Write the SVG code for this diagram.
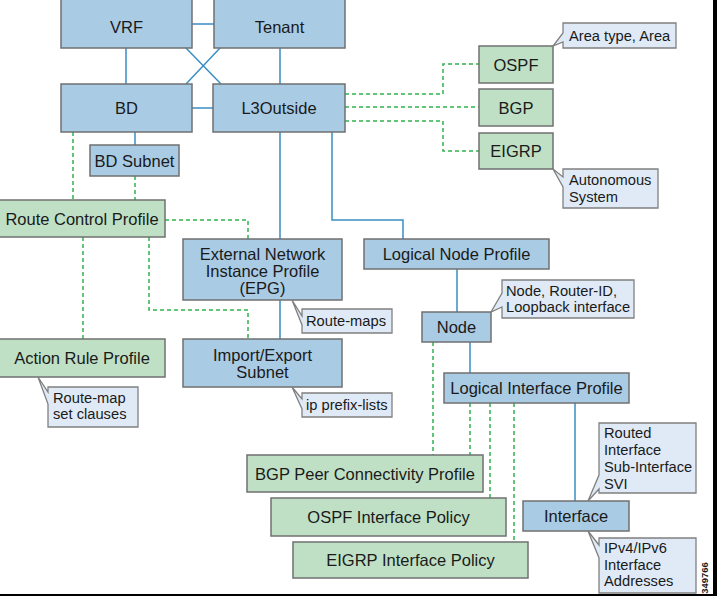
<svg xmlns="http://www.w3.org/2000/svg" width="717" height="596" viewBox="0 0 717 596">
<style>
.b{fill:#a9cbe4;stroke:#707070;stroke-width:1.5}
.g{fill:#bfe0c5;stroke:#707070;stroke-width:1.5}
.c{fill:#dfeaf6;stroke:#808080;stroke-width:1.3}
.t{font-family:"Liberation Sans",Arial,sans-serif;font-size:16.5px;fill:#1a1a1a;text-anchor:middle}
.s{font-family:"Liberation Sans",Arial,sans-serif;font-size:14.7px;fill:#1a1a1a}
.l{fill:none;stroke:#3a8fc4;stroke-width:1.5}
.d{fill:none;stroke:#2fb34c;stroke-width:1.5;stroke-dasharray:4,3}
</style>
<rect x="0" y="0" width="717" height="596" fill="#ffffff"/>
<g id="connectors">
<path class="l" d="M192,24H214 M126,48V84 M186,48L221,84 M220,48L186,84 M280,48V84 M192,108H213 M135,132V145 M280,132V239 M332,132V220H403V239 M280,300V339 M457,269V312 M470,342V373 M575,403V501"/>
<path class="d" d="M73,132V200 M135,176V200 M165,220H248V239 M83,237V339 M149,237V310H248V339 M345,94H443V64H479 M345,107H479 M345,121H443V151H479 M433,342V455 M470,403V455 M490,403V498 M514,403V542"/>
</g>
<g id="vrf"><rect class="b" x="61" y="-2" width="131" height="50"/><text class="t" x="126.5" y="33">VRF</text></g>
<g id="tenant"><rect class="b" x="214" y="-2" width="131" height="50"/><text class="t" x="279.5" y="33">Tenant</text></g>
<g id="bd"><rect class="b" x="61" y="84" width="131" height="48"/><text class="t" x="126.5" y="114">BD</text></g>
<g id="l3outside"><rect class="b" x="213" y="84" width="132" height="48"/><text class="t" x="279" y="114">L3Outside</text></g>
<g id="bdsubnet"><rect class="b" x="90" y="145" width="89" height="31"/><text class="t" x="134.5" y="166.5">BD Subnet</text></g>
<g id="ospf"><rect class="g" x="479" y="46" width="74" height="37"/><text class="t" x="516" y="70.5">OSPF</text></g>
<g id="bgp"><rect class="g" x="479" y="89" width="74" height="37"/><text class="t" x="516" y="113.5">BGP</text></g>
<g id="eigrp"><rect class="g" x="479" y="133" width="74" height="36"/><text class="t" x="516" y="157">EIGRP</text></g>
<g id="c-area"><path class="c" d="M563,23H676V48H563V42L553,46L563,33Z"/><text class="s" x="569" y="40.5">Area type, Area</text></g>
<g id="c-as"><path class="c" d="M563,169H658V208H563V187L553,169L563,177Z"/><text class="s" x="569" y="185">Autonomous</text><text class="s" x="569" y="201.5">System</text></g>
<g id="rcp"><rect class="g" x="-2" y="200" width="167" height="37"/><text class="t" x="82" y="224.5">Route Control Profile</text></g>
<g id="epg"><rect class="b" x="183" y="239" width="159" height="61"/><text class="t" x="262.5" y="259.5">External Network</text><text class="t" x="262.5" y="276.5">Instance Profile</text><text class="t" x="262.5" y="293.5">(EPG)</text></g>
<g id="lnp"><rect class="b" x="364" y="239" width="185" height="30"/><text class="t" x="456.5" y="260">Logical Node Profile</text></g>
<g id="c-rm"><path class="c" d="M302,309H392V333H302V325L292,300L302,316Z"/><text class="s" x="306" y="326">Route-maps</text></g>
<g id="arp"><rect class="g" x="-2" y="339" width="167" height="38"/><text class="t" x="82" y="364">Action Rule Profile</text></g>
<g id="ies"><rect class="b" x="183" y="339" width="159" height="48"/><text class="t" x="262.5" y="360.5">Import/Export</text><text class="t" x="262.5" y="377.5">Subnet</text></g>
<g id="c-rmsc"><path class="c" d="M48,387H138V427H48V404L38,377L48,392Z"/><text class="s" x="53" y="403">Route-map</text><text class="s" x="53" y="419">set clauses</text></g>
<g id="c-ipl"><path class="c" d="M302,393H392V417H302V409L292,387L302,399Z"/><text class="s" x="306" y="410">ip prefix-lists</text></g>
<g id="node"><rect class="b" x="422" y="312" width="69" height="30"/><text class="t" x="456.5" y="333">Node</text></g>
<g id="c-node"><path class="c" d="M502,280H634V318H502V307L491,312L502,293Z"/><text class="s" x="506" y="296">Node, Router-ID,</text><text class="s" x="506" y="312">Loopback interface</text></g>
<g id="lip"><rect class="b" x="444" y="373" width="185" height="30"/><text class="t" x="536.5" y="394">Logical Interface Profile</text></g>
<g id="bgppeer"><rect class="g" x="247" y="455" width="236" height="37"/><text class="t" x="365" y="479.5">BGP Peer Connectivity Profile</text></g>
<g id="ospfip"><rect class="g" x="271" y="498" width="235" height="38"/><text class="t" x="388.5" y="523">OSPF Interface Policy</text></g>
<g id="eigrpip"><rect class="g" x="293" y="542" width="235" height="36"/><text class="t" x="410.5" y="566">EIGRP Interface Policy</text></g>
<g id="interface"><rect class="b" x="523" y="501" width="106" height="30"/><text class="t" x="576" y="522">Interface</text></g>
<g id="c-routed"><path class="c" d="M599,423H696V493H599V489L588,501L599,475Z"/><text class="s" x="604" y="438">Routed</text><text class="s" x="604" y="455">Interface</text><text class="s" x="604" y="472">Sub-Interface</text><text class="s" x="604" y="489">SVI</text></g>
<g id="c-ip"><path class="c" d="M599,538H696V593H599V558L588,531L599,545Z"/><text class="s" x="604" y="553">IPv4/IPv6</text><text class="s" x="604" y="569.5">Interface</text><text class="s" x="604" y="586">Addresses</text></g>
<text x="0" y="0" transform="translate(707.5,578) rotate(-90)" font-family="Liberation Sans,Arial,sans-serif" font-size="9.5" font-weight="bold" fill="#1a1a1a" text-anchor="middle">349766</text>
<rect x="713" y="0" width="4" height="596" fill="#000000"/>
<rect x="0" y="594" width="717" height="2" fill="#000000"/>
</svg>
